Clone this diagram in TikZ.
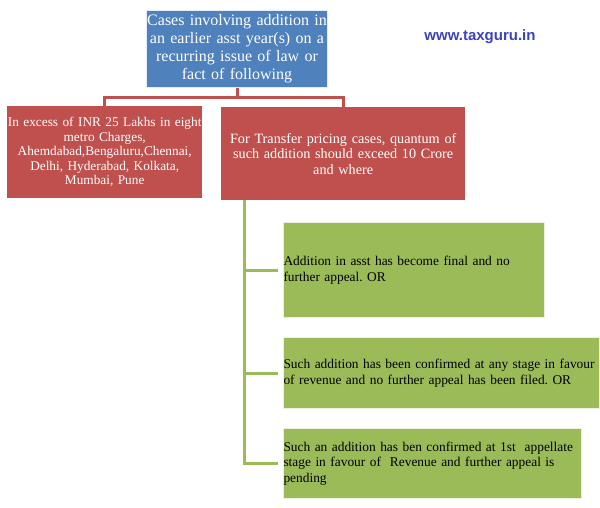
\documentclass[tikz,border=0pt]{standalone}
\usepackage{fontspec}
\setmainfont{Liberation Serif}
\newfontfamily\webfont{Liberation Sans}
\usepackage{tikz}
\usetikzlibrary{positioning, calc}
\frenchspacing

\definecolor{caseblue}{RGB}{79,129,189}
\definecolor{casered}{RGB}{192,80,77}
\definecolor{casegreen}{RGB}{155,187,89}
\definecolor{sitecolor}{RGB}{58,66,190}

\begin{document}
\begin{tikzpicture}[
  x=1pt, y=-1pt,
  topbox/.style={draw=white!85!caseblue, line width=1pt, fill=caseblue, text=white, anchor=north west, inner sep=0pt, align=center, font=\fontsize{16}{18}\selectfont},
  redbox/.style={fill=casered, text=white, anchor=north west, inner sep=0pt, align=center},
  greenbox/.style={draw=white!80!casegreen, line width=1pt, fill=casegreen, text=black, anchor=north west, inner xsep=0pt, inner ysep=2pt, align=left, font=\fontsize{13.4}{15.5}\selectfont},
  redline/.style={draw=casered, line width=3pt},
  greenline/.style={draw=casegreen, line width=3pt}
]
\useasboundingbox (0,0) rectangle (600,508);

% TOP CASE
\node[topbox, minimum width=181pt, minimum height=77pt, text width=181pt] (cases) at (146,10)
  {Cases involving addition in\\an earlier asst year(s) on a\\recurring issue of law or\\fact of following};

% SITE NAME
\node[font=\webfont\bfseries\fontsize{15}{18}\selectfont, text=sitecolor] (site) at (480,37) {www.taxguru.in};

% METRO CHARGES
\node[redbox, minimum width=195pt, minimum height=92pt, text width=195pt, font=\fontsize{13.3}{14.5}\selectfont] (metro) at (7,106)
  {In excess of INR 25 Lakhs in eight\\metro Charges,\\Ahemdabad,Bengaluru,Chennai,\\Delhi, Hyderabad, Kolkata,\\Mumbai, Pune};

% TRANSFER PRICING
\node[redbox, minimum width=244pt, minimum height=93pt, text width=244pt, font=\fontsize{14.2}{15.5}\selectfont] (transfer) at (221,107)
  {For Transfer pricing cases, quantum of\\such addition should exceed 10 Crore\\and where};

% Bracket to red boxes
\coordinate (fork) at ($(cases.south)+(0,10)$);
\draw[redline] (cases.south) -- (fork);
\draw[redline] (metro.north) |- (fork) -| (transfer.north);

% CONDITIONS
\node[greenbox, minimum width=261pt, minimum height=95pt, text width=261pt] (final) at (283,222)
  {Addition in asst has become final and no\\further appeal. OR};
\node[greenbox, minimum width=316pt, minimum height=71pt, text width=316pt] (confirmed) at (283,337)
  {Such addition has been confirmed at any stage in favour\\of revenue and no further appeal has been filed. OR};
\node[greenbox, minimum width=298pt, minimum height=70pt, text width=298pt] (pending) at (283,428)
  {Such an addition has ben confirmed at 1st\ \ appellate\\stage in favour of\ \ Revenue and further appeal is\\pending};

% Tree to conditions
\coordinate (trunk) at ($(transfer.south west)+(23,0)$);
\draw[greenline] (trunk) -- (trunk |- pending.west) -- ([xshift=-5pt]pending.west);
\draw[greenline] (trunk |- final.west) -- ([xshift=-5pt]final.west);
\draw[greenline] (trunk |- confirmed.west) -- ([xshift=-5pt]confirmed.west);

\end{tikzpicture}
\end{document}
